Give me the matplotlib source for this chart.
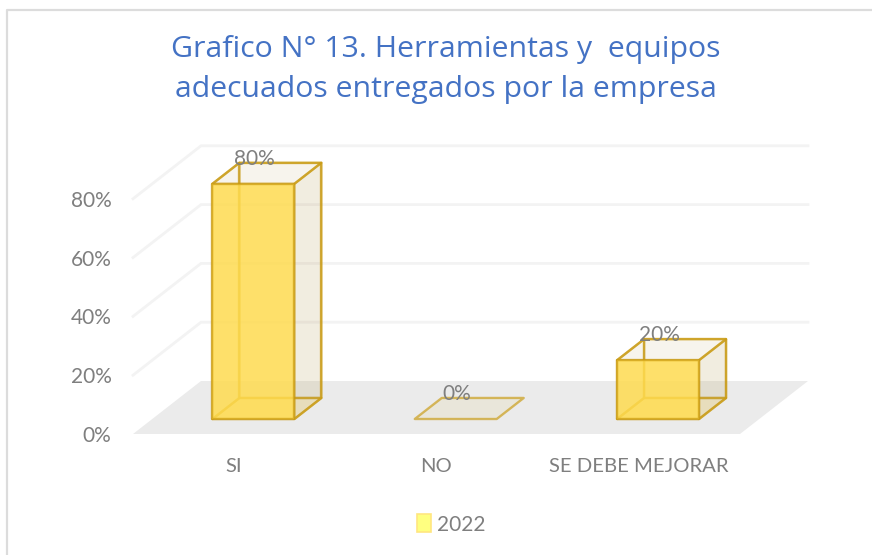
import numpy as np
import matplotlib.pyplot as plt
from matplotlib.patches import Polygon, Patch
from matplotlib.lines import Line2D

# Data
categories = ['SI', 'NO', 'SE DEBE MEJORAR']
values = [80, 0, 20]
yticks = [0, 20, 40, 60, 80]
series_name = '2022'

W, H = 872, 555
plt.rcParams['font.family'] = ['Lato', 'DejaVu Sans']

fig = plt.figure(figsize=(W / 100, H / 100), dpi=100)
# floor front edge goes from x=133 to x=740, 0% sits at y=434
ax = fig.add_axes([133 / W, 1 - 434 / H, 607 / W, 294 / H])
ax.set_xlim(-0.5, 2.5)
ax.set_ylim(0, 100)
ax.patch.set_visible(False)
for s in ax.spines.values():
    s.set_visible(False)

# oblique depth: full depth of the floor in data units
depth_x = 68 / 202.3
depth_y = 53 / 2.94


def pt(x, v, d):
    return (x + d * depth_x, v + d * depth_y)


def face(points, **kw):
    ax.add_patch(Polygon(points, closed=True, clip_on=False, **kw))


# floor
face([pt(-0.5, 0, 0), pt(2.5, 0, 0), pt(2.5, 0, 1), pt(-0.5, 0, 1)],
     facecolor='#ebebeb', edgecolor='none', zorder=1)

# gridlines on left wall and back wall
for v in yticks[1:]:
    p0, p1, p2 = pt(-0.5, v, 0), pt(-0.5, v, 1), pt(2.5, v, 1)
    ax.plot([p0[0], p1[0], p2[0]], [p0[1], p1[1], p2[1]], color='#f3f3f3',
            lw=2, clip_on=False, zorder=1, solid_joinstyle='miter')

# bars
bar_w = 0.405
d0, d1 = 0.283, 0.68
edge = '#c99a10'
for i, v in enumerate(values):
    l, r = i - bar_w / 2, i + bar_w / 2
    style = dict(edgecolor=edge + 'a8', lw=1.7, joinstyle='round', zorder=2)
    # bottom, back, left
    face([pt(l, 0, d0), pt(r, 0, d0), pt(r, 0, d1), pt(l, 0, d1)],
         facecolor='#ffe27a40' if v else '#e8e0c060', **style)
    if v:
        face([pt(l, v, d1), pt(r, v, d1), pt(r, 0, d1), pt(l, 0, d1)],
             facecolor='#c9b27a0c', **style)
        face([pt(l, v, d0), pt(l, v, d1), pt(l, 0, d1), pt(l, 0, d0)],
             facecolor='#c9b27a0c', **style)
        # right side and top
        face([pt(r, v, d0), pt(r, v, d1), pt(r, 0, d1), pt(r, 0, d0)],
             facecolor='#b9a26028', **style)
        face([pt(l, v, d0), pt(r, v, d0), pt(r, v, d1), pt(l, v, d1)],
             facecolor='#c9b27a16', **style)
        # front
        face([pt(l, 0, d0), pt(r, 0, d0), pt(r, v, d0), pt(l, v, d0)],
             facecolor='#ffdc50d8', **style)
    lx, ly = pt(i, v, d0)
    ax.annotate(f'{v}%', (lx, ly), xytext=(1, 18), textcoords='offset points',
                ha='center', va='center', fontsize=15, color='#7f7f7f',
                zorder=5, annotation_clip=False)

ax.set_xticks(range(len(categories)), categories)
ax.set_yticks(yticks, [f'{v}%' for v in yticks])
ax.tick_params(axis='x', length=0, pad=17, labelsize=14.6, labelcolor='#7f7f7f')
ax.tick_params(axis='y', length=0, pad=15.5, labelsize=15, labelcolor='#7f7f7f')

ax.text(446 / W, 1 - 50 / H, 'Grafico N° 13. Herramientas y  equipos',
        transform=fig.transFigure, ha='center', va='center',
        fontsize=21.8, color='#4472c4', family='Open Sans')
ax.text(446 / W, 1 - 89 / H, 'adecuados entregados por la empresa',
        transform=fig.transFigure, ha='center', va='center',
        fontsize=21.8, color='#4472c4', family='Open Sans')

fig.legend(handles=[Patch(facecolor='#ffff80', edgecolor='#ffe680', lw=1.2,
                          label=series_name)],
           loc='center', bbox_to_anchor=(451 / W, 1 - 524.5 / H), frameon=False,
           fontsize=15, labelcolor='#7f7f7f', handlelength=0.66, handleheight=0.95,
           handletextpad=0.3)

# chart frame, only top and left edges are visible in the crop
fig.add_artist(Line2D([6.5 / W, 6.5 / W, 1], [0, 1 - 9.5 / H, 1 - 9.5 / H],
                      transform=fig.transFigure, color='#dcdcdc', lw=1.6))

fig.savefig('out.png', dpi=100)
